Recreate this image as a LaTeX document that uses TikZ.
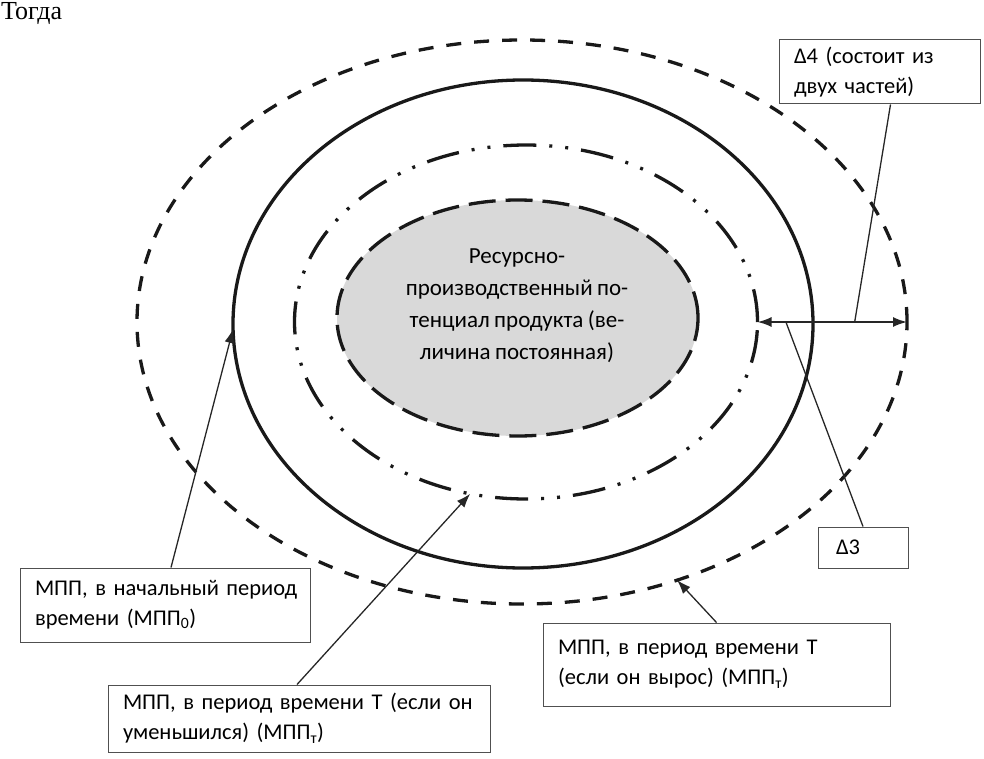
\documentclass[tikz,border=0pt]{standalone}
\usepackage{fontspec}
\setmainfont{Carlito}[WordSpace=0.85]
\newfontfamily\serifcyr{Liberation Serif}
\usetikzlibrary{shapes.geometric,arrows.meta,calc}
\definecolor{fillgray}{RGB}{217,217,217}
\definecolor{boxline}{RGB}{80,80,80}
\tikzset{
  ring/.style={ellipse, inner sep=0pt, outer sep=0pt, line width=3.3pt, draw=black!90},
  lbl/.style={rectangle, draw=boxline, line width=1pt, inner ysep=0pt, align=left,
    font=\fontsize{22.5}{30}\selectfont},
  conn/.style={line width=1.3pt, draw=black!85},
  tip/.style={-{Latex[length=14pt,width=10pt]}},
}
\begin{document}
\begin{tikzpicture}[x=1pt,y=-1pt]
\useasboundingbox (0,0) rectangle (984,759);
\node[anchor=base west, inner sep=0pt, font=\serifcyr\fontsize{26}{30}\selectfont] (togda) at (1,20) {Тогда};

% ellipses
\node[ring, dash pattern=on 15pt off 13pt, minimum width=770pt, minimum height=564pt] (outer) at (522,322) {};
\node[ring, minimum width=580pt, minimum height=488pt] (solid) at (523,324) {};
\node[ring, dash pattern=on 33pt off 13pt on 3pt off 13pt on 3pt off 13pt, minimum width=463pt, minimum height=354pt] (dd) at (526,322) {};
\node[ring, fill=fillgray, dash pattern=on 27pt off 10pt, minimum width=361pt, minimum height=236pt] (core) at (517.5,318) {};
\node[align=center, inner sep=0pt, font=\fontsize{23}{32}\selectfont] (coretext) at (517,306)
  {Ресурсно-\\производственный по-\\тенциал продукта (ве-\\личина постоянная)};

% delta arrow
\draw[conn, line width=1.8pt, {Latex[length=14pt,width=10pt]}-{Latex[length=14pt,width=10pt]}] (dd.east) -- (outer.east);
\coordinate (p4) at ($(dd.east)!0.65!(outer.east)$);
\coordinate (p3) at ($(dd.east)!0.19!(outer.east)$);

% boxes
\node[lbl, minimum width=201pt, minimum height=64pt, text width=171pt, inner xsep=15pt] (d4) at (879.5,72) {\mbox{Δ4 (состоит из}\\\mbox{двух частей)}};
\node[lbl, minimum width=90pt, minimum height=41pt, text width=54pt, inner xsep=18pt] (d3) at (863,547.5) {Δ3};
\node[lbl, minimum width=290pt, minimum height=74pt, text width=260pt, inner xsep=15pt] (b1) at (165,605) {\mbox{МПП, в начальный период}\\\mbox{времени (МПП\textsubscript{0})}};
\node[lbl, minimum width=382pt, minimum height=67pt, text width=352pt, inner xsep=15pt] (b2) at (299,718.5) {\mbox{МПП, в период времени Т (если он}\\\mbox{уменьшился) (МПП\textsubscript{т})}};
\node[lbl, minimum width=347pt, minimum height=83pt, text width=317pt, inner xsep=15pt] (b3) at (716.5,664.5) {\mbox{МПП, в период времени Т}\\\mbox{(если он вырос) (МПП\textsubscript{т})}};

% connectors
\draw[conn] ([xshift=11pt]d4.south) -- (p4);
\draw[conn] (d3.north) -- (p3);
\draw[conn, tip] ([xshift=6pt]b1.north) -- (solid.181.4);
\draw[conn, tip] ([xshift=-2pt]b2.north) -- (dd.252.3);
\draw[conn, tip] (b3.north) -- (outer.301.8);
\end{tikzpicture}
\end{document}
